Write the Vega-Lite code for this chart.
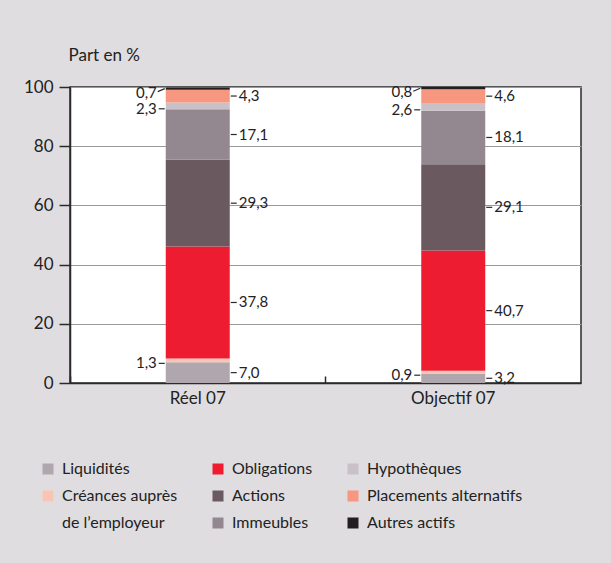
{
  "$schema": "https://vega.github.io/schema/vega-lite/v6.json",
  "width": 511,
  "height": 296,
  "autosize": "none",
  "padding": {"left": 70, "top": 87, "right": 30, "bottom": 180},
  "background": "#dfdde0",
  "config": {
    "locale": {"number": {"decimal": ",", "thousands": " ", "grouping": [3], "currency": ["", ""]}},
    "font": "Lato",
    "view": {"stroke": "#2a2a2a", "strokeWidth": 1.5, "fill": "white"},
    "text": {"font": "Lato", "fontSize": 15, "color": "#222"}
  },
  "data": {
    "values": [
      {"bar": "Réel 07", "cat": "Liquidités", "val": 7.0},
      {"bar": "Réel 07", "cat": "Créances auprès de l’employeur", "val": 1.3},
      {"bar": "Réel 07", "cat": "Obligations", "val": 37.8},
      {"bar": "Réel 07", "cat": "Actions", "val": 29.3},
      {"bar": "Réel 07", "cat": "Immeubles", "val": 17.1},
      {"bar": "Réel 07", "cat": "Hypothèques", "val": 2.3},
      {"bar": "Réel 07", "cat": "Placements alternatifs", "val": 4.3},
      {"bar": "Réel 07", "cat": "Autres actifs", "val": 0.7},
      {"bar": "Objectif 07", "cat": "Liquidités", "val": 3.2},
      {"bar": "Objectif 07", "cat": "Créances auprès de l’employeur", "val": 0.9},
      {"bar": "Objectif 07", "cat": "Obligations", "val": 40.7},
      {"bar": "Objectif 07", "cat": "Actions", "val": 29.1},
      {"bar": "Objectif 07", "cat": "Immeubles", "val": 18.1},
      {"bar": "Objectif 07", "cat": "Hypothèques", "val": 2.6},
      {"bar": "Objectif 07", "cat": "Placements alternatifs", "val": 4.6},
      {"bar": "Objectif 07", "cat": "Autres actifs", "val": 0.8}
    ]
  },
  "transform": [
    {"calculate": "indexof(['Liquidités', 'Créances auprès de l’employeur', 'Obligations', 'Actions', 'Immeubles', 'Hypothèques', 'Placements alternatifs', 'Autres actifs'], datum.cat)", "as": "rang"},
    {"stack": "val", "groupby": ["bar"], "sort": [{"field": "rang", "order": "ascending"}], "as": ["y0", "y1"]},
    {"calculate": "(datum.y0 + datum.y1) / 2", "as": "mid"}
  ],
  "layer": [
    {
      "mark": {"type": "bar", "width": 64},
      "encoding": {
        "x": {
          "field": "bar", "type": "nominal", "sort": ["Réel 07", "Objectif 07"],
          "scale": {"paddingInner": 0, "paddingOuter": 0},
          "axis": {
            "title": null, "labelAngle": 0, "bandPosition": 0,
            "tickSize": -7, "tickColor": "#2a2a2a", "tickWidth": 1.5,
            "domainColor": "#2a2a2a", "domainWidth": 1.5,
            "labelFontSize": 17, "labelColor": "#222", "labelPadding": 14, "labelFont": "Lato"
          }
        },
        "y": {
          "field": "y0", "type": "quantitative", "scale": {"domain": [0, 100]},
          "axis": {
            "values": [0, 20, 40, 60, 80, 100],
            "tickSize": 11, "tickColor": "#2a2a2a", "tickWidth": 1.5,
            "domainColor": "#2a2a2a", "domainWidth": 1.5,
            "grid": true, "gridColor": "#9a9a9a", "gridWidth": 1,
            "labelFontSize": 17, "labelColor": "#222", "labelPadding": 6, "labelFont": "Lato",
            "title": "Part en %", "titleAngle": 0, "titleAlign": "left", "titleBaseline": "middle",
            "titleX": -2, "titleY": -32, "titleFontSize": 17, "titleFontWeight": "normal",
            "titleColor": "#222", "titleFont": "Lato"
          }
        },
        "y2": {"field": "y1"},
        "color": {
          "field": "cat", "type": "nominal",
          "scale": {
            "domain": ["Liquidités", "Créances auprès de l’employeur", "de l’employeur", "Obligations", "Actions", "Immeubles", "Hypothèques", "Placements alternatifs", "Autres actifs"],
            "range": ["#b0a6ad", "#f9c6b4", "rgba(0,0,0,0)", "#ee1c31", "#6b5960", "#93888f", "#c9c1c7", "#f7977f", "#231f20"]
          },
          "legend": {
            "orient": "none", "legendX": -30, "legendY": 374, "columns": 3, "title": null,
            "symbolType": "square", "symbolSize": 121, "symbolStrokeWidth": 0,
            "labelFontSize": 16, "labelFont": "Lato", "labelColor": "#222", "labelOffset": 6,
            "rowPadding": 11, "columnPadding": 32, "labelLimit": 300,
            "labelExpr": "datum.label == 'Créances auprès de l’employeur' ? 'Créances auprès' : datum.label"
          }
        }
      }
    },
    {
      "transform": [{"filter": {"field": "cat", "oneOf": ["Liquidités", "Obligations", "Actions", "Immeubles", "Placements alternatifs"]}}],
      "mark": {"type": "rule", "xOffset": 33, "x2Offset": 39, "color": "#2a2a2a", "strokeWidth": 1.2},
      "encoding": {
        "x": {"field": "bar", "type": "nominal", "sort": ["Réel 07", "Objectif 07"]},
        "x2": {"field": "bar"},
        "y": {"field": "mid", "type": "quantitative"}
      }
    },
    {
      "transform": [{"filter": {"field": "cat", "oneOf": ["Liquidités", "Obligations", "Actions", "Immeubles", "Placements alternatifs"]}}],
      "mark": {"type": "text", "align": "left", "baseline": "middle", "dx": 41},
      "encoding": {
        "x": {"field": "bar", "type": "nominal", "sort": ["Réel 07", "Objectif 07"]},
        "y": {"field": "mid", "type": "quantitative"},
        "text": {"field": "val", "type": "quantitative", "format": ".1f"}
      }
    },
    {
      "transform": [{"filter": {"field": "cat", "oneOf": ["Créances auprès de l’employeur", "Hypothèques"]}}],
      "mark": {"type": "rule", "xOffset": -39, "x2Offset": -33, "yOffset": 3, "y2Offset": 3, "color": "#2a2a2a", "strokeWidth": 1.2},
      "encoding": {
        "x": {"field": "bar", "type": "nominal", "sort": ["Réel 07", "Objectif 07"]},
        "x2": {"field": "bar"},
        "y": {"field": "mid", "type": "quantitative"}
      }
    },
    {
      "transform": [{"filter": {"field": "cat", "oneOf": ["Créances auprès de l’employeur", "Hypothèques"]}}],
      "mark": {"type": "text", "align": "right", "baseline": "middle", "dx": -41, "dy": 3},
      "encoding": {
        "x": {"field": "bar", "type": "nominal", "sort": ["Réel 07", "Objectif 07"]},
        "y": {"field": "mid", "type": "quantitative"},
        "text": {"field": "val", "type": "quantitative", "format": ".1f"}
      }
    },
    {
      "transform": [{"filter": {"field": "cat", "equal": "Autres actifs"}}],
      "mark": {"type": "rule", "xOffset": -40, "x2Offset": -33, "yOffset": 3, "y2Offset": 0, "color": "#2a2a2a", "strokeWidth": 1.2},
      "encoding": {
        "x": {"field": "bar", "type": "nominal", "sort": ["Réel 07", "Objectif 07"]},
        "x2": {"field": "bar"},
        "y": {"field": "mid", "type": "quantitative"},
        "y2": {"field": "mid"}
      }
    },
    {
      "transform": [{"filter": {"field": "cat", "equal": "Autres actifs"}}],
      "mark": {"type": "text", "align": "right", "baseline": "middle", "dx": -41, "dy": 4},
      "encoding": {
        "x": {"field": "bar", "type": "nominal", "sort": ["Réel 07", "Objectif 07"]},
        "y": {"field": "mid", "type": "quantitative"},
        "text": {"field": "val", "type": "quantitative", "format": ".1f"}
      }
    }
  ]
}
